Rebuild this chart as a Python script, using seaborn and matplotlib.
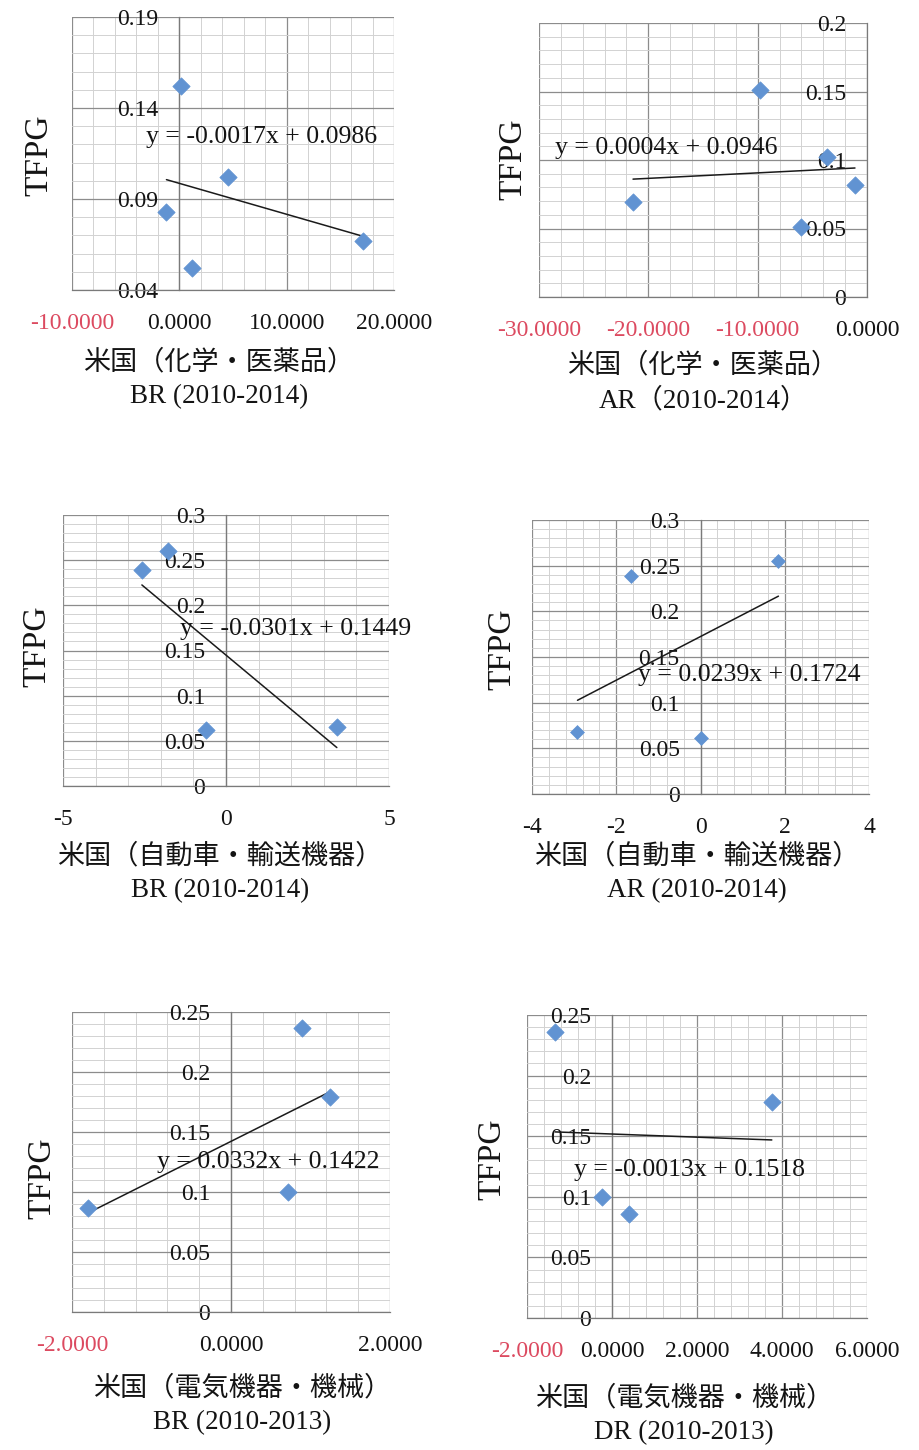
import numpy as np
import matplotlib
matplotlib.use("Agg")
import matplotlib.pyplot as plt
import seaborn as sns

# ---- data: US industries, TFP growth vs. exchange-rate measures ----
chem_br_x = [0.2, -1.2, 1.2, 4.5, 17.1]
chem_br_y = [0.152, 0.083, 0.052, 0.102, 0.067]
chem_br_fit = (-0.0017, 0.0986)

chem_ar_x = [-9.75, -21.4, -3.7, -1.1, -6.0]
chem_ar_y = [0.151, 0.069, 0.102, 0.082, 0.051]
chem_ar_fit = (0.0004, 0.0946)

auto_br_x = [-2.58, -1.78, -0.6, 3.4]
auto_br_y = [0.239, 0.260, 0.062, 0.065]
auto_br_fit = (-0.0301, 0.1449)

auto_ar_x = [-2.92, -1.66, 0.0, 1.85]
auto_ar_y = [0.068, 0.239, 0.061, 0.255]
auto_ar_fit = (0.0239, 0.1724)

elec_br_x = [-1.8, 0.89, 0.72, 1.25]
elec_br_y = [0.087, 0.237, 0.100, 0.179]
elec_br_fit = (0.0332, 0.1422)

elec_dr_x = [-1.34, -0.24, 0.4, 3.76]
elec_dr_y = [0.236, 0.100, 0.086, 0.178]
elec_dr_fit = (-0.0013, 0.1518)

industry_labels = ["米国（化学・医薬品）", "米国（自動車・輸送機器）", "米国（電気機器・機械）"]
period_labels = ["BR (2010-2014)", "AR（2010-2014）", "BR (2010-2014)",
                 "AR (2010-2014)", "BR (2010-2013)", "DR (2010-2013)"]
y_label = "TFPG"

# ---- styling ----
sns.set_theme(style="white")
plt.rcParams["font.family"] = ["Liberation Serif", "Noto Sans CJK JP"]
plt.rcParams["axes.unicode_minus"] = False

W, H = 919, 1450
MARKER = "#6193D2"
RED = "#DC4A60"
INK = "#141414"
MAJOR_GRID = "#8c8c8c"
MINOR_GRID = "#d2d2d2"

# panel definitions: data, axis ranges and placement (pixel box: left, top, right, bottom)
panels = [
    dict(x=chem_br_x, y=chem_br_y, fit=chem_br_fit, label=industry_labels[0] + "\n" + period_labels[0],
         xlim=(-10, 20), xmaj=10, xmin=2, ylim=(0.04, 0.19), ymaj=0.05, ymin=0.01, dec=True,
         box=(72, 17, 394, 290), eq=(262, 137), lab=(219, 350), ylab=(39, 155), ms=78),
    dict(x=chem_ar_x, y=chem_ar_y, fit=chem_ar_fit, label=industry_labels[0] + "\n" + period_labels[1],
         xlim=(-30, 0), xmaj=10, xmin=2, ylim=(0.0, 0.2), ymaj=0.05, ymin=0.01, dec=True,
         box=(539, 23, 867, 297), eq=(666, 148), lab=(703, 353), ylab=(513, 159), ms=78),
    dict(x=auto_br_x, y=auto_br_y, fit=auto_br_fit, label=industry_labels[1] + "\n" + period_labels[2],
         xlim=(-5, 5), xmaj=5, xmin=1, ylim=(0.0, 0.3), ymaj=0.05, ymin=0.01, dec=False,
         box=(63, 515, 389, 786), eq=(296, 629), lab=(220, 844), ylab=(37, 646), ms=78),
    dict(x=auto_ar_x, y=auto_ar_y, fit=auto_ar_fit, label=industry_labels[1] + "\n" + period_labels[3],
         xlim=(-4, 4), xmaj=2, xmin=0.4, ylim=(0.0, 0.3), ymaj=0.05, ymin=0.01, dec=False,
         box=(532, 520, 869, 794), eq=(749, 675), lab=(697, 844), ylab=(502, 649), ms=50),
    dict(x=elec_br_x, y=elec_br_y, fit=elec_br_fit, label=industry_labels[2] + "\n" + period_labels[4],
         xlim=(-2, 2), xmaj=2, xmin=0.4, ylim=(0.0, 0.25), ymaj=0.05, ymin=0.01, dec=True,
         box=(72, 1012, 390, 1312), eq=(268, 1162), lab=(242, 1376), ylab=(42, 1178), ms=78),
    dict(x=elec_dr_x, y=elec_dr_y, fit=elec_dr_fit, label=industry_labels[2] + "\n" + period_labels[5],
         xlim=(-2, 6), xmaj=2, xmin=0.4, ylim=(0.0, 0.25), ymaj=0.05, ymin=0.01, dec=True,
         box=(527, 1015, 867, 1318), eq=(689, 1170), lab=(684, 1386), ylab=(492, 1159), ms=78),
]

fig = plt.figure(figsize=(W / 100, H / 100), dpi=100, facecolor="white")


def ticks(lo, hi, step):
    n = int(round((hi - lo) / step))
    return [round(lo + i * step, 6) for i in range(n + 1)]


for p in panels:
    l, t, r, b = p["box"]
    ax = fig.add_axes([l / W, 1 - b / H, (r - l) / W, (b - t) / H])
    ax.set_facecolor("white")

    # scatter points and the linear trend line given by the equation
    sns.scatterplot(x=p["x"], y=p["y"], marker="D", s=p["ms"], color=MARKER,
                    edgecolor=MARKER, linewidth=0.5, ax=ax, zorder=4)
    slope, icpt = p["fit"]
    xs = np.array([min(p["x"]), max(p["x"])])
    sns.lineplot(x=xs, y=slope * xs + icpt, color="#1a1a1a", linewidth=1.1, ax=ax, zorder=3)

    ax.set_xlim(*p["xlim"])
    ax.set_ylim(*p["ylim"])

    xt = ticks(p["xlim"][0], p["xlim"][1], p["xmaj"])
    yt = ticks(p["ylim"][0], p["ylim"][1], p["ymaj"])
    ax.set_xticks(xt)
    ax.set_yticks(yt)
    ax.set_xticks(ticks(p["xlim"][0], p["xlim"][1], p["xmin"]), minor=True)
    ax.set_yticks(ticks(p["ylim"][0], p["ylim"][1], p["ymin"]), minor=True)
    if p["dec"]:
        ax.set_xticklabels([f"{v:.4f}" for v in xt])
    else:
        ax.set_xticklabels([f"{v:g}" for v in xt])
    ax.set_yticklabels([f"{v:g}" for v in yt])

    ax.grid(which="major", color=MAJOR_GRID, linewidth=0.9)
    ax.grid(which="minor", color=MINOR_GRID, linewidth=0.7)
    ax.set_axisbelow(True)

    # vertical axis crosses at x = 0, horizontal axis sits at the bottom
    ax.spines["left"].set_position(("data", 0))
    for side in ("top", "right"):
        ax.spines[side].set_visible(False)
    for side in ("left", "bottom"):
        ax.spines[side].set_color("#7a7a7a")
        ax.spines[side].set_linewidth(0.9)

    ax.tick_params(axis="x", which="major", direction="out", length=4.5, width=0.9,
                   color="#7a7a7a", pad=12, labelsize=17, labelcolor=INK)
    ax.tick_params(axis="y", which="major", direction="out", length=4, width=0.9,
                   color="#7a7a7a", pad=11, labelsize=17, labelcolor=INK)
    ax.tick_params(which="minor", length=0)
    if p["dec"]:
        # negative values use the red number format
        for v, lab in zip(xt, ax.get_xticklabels()):
            lab.set_color(RED if v < 0 else INK)

    # trend-line equation
    ex, ey = p["eq"]
    ax.text((ex - l) / (r - l), (b - ey) / (b - t), f"y = {slope:.4f}x + {icpt:.4f}",
            transform=ax.transAxes, ha="center", va="center", fontsize=18.5,
            color=INK, zorder=5)

    # axis titles
    ax.set_xlabel(p["label"], fontsize=19.5, linespacing=1.45, color=INK)
    lx, ly = p["lab"]
    ax.xaxis.set_label_coords((lx - l) / (r - l), (b - ly) / (b - t))
    ax.xaxis.label.set_va("top")
    ax.set_ylabel(y_label, fontsize=24, color=INK)
    yx, yy = p["ylab"]
    ax.yaxis.label.set_va("center")
    ax.yaxis.set_label_coords((yx - l) / (r - l), (b - yy) / (b - t))

fig.savefig("out.png", dpi=100, facecolor="white")
